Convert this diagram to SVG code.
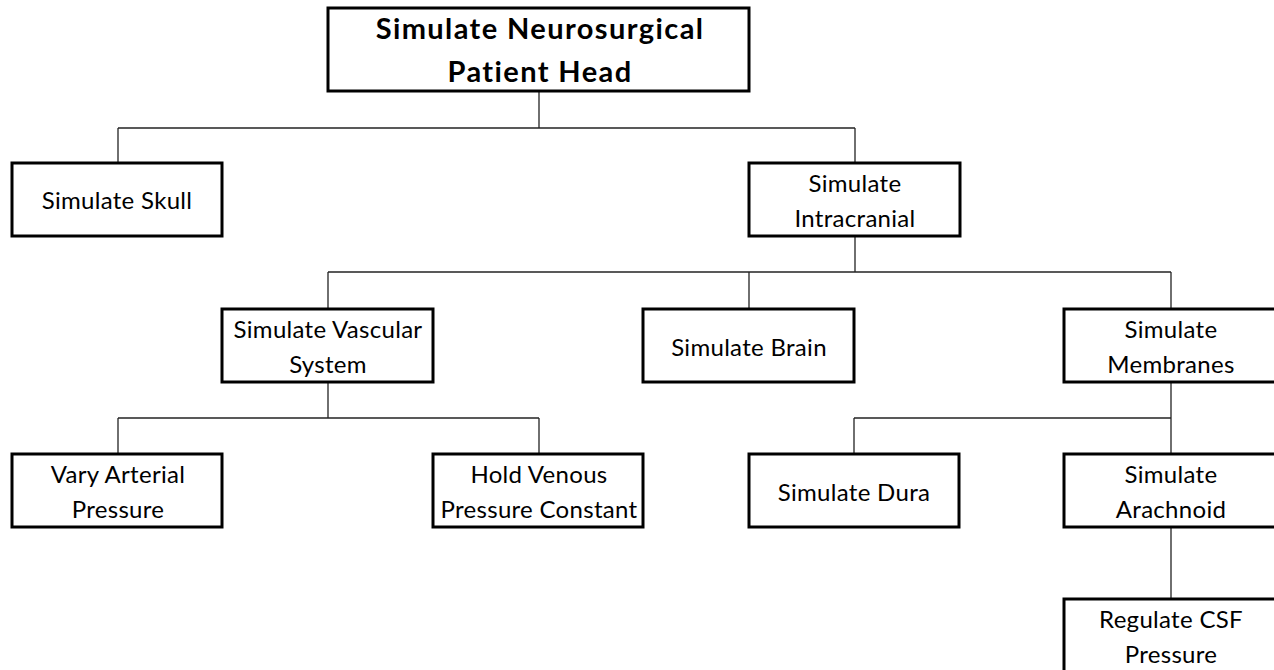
<svg xmlns="http://www.w3.org/2000/svg" width="1274" height="670" viewBox="0 0 1274 670">
<style>
.box{fill:#fff;stroke:#000;stroke-width:3}
.conn line{stroke:#222;stroke-width:1.3}
text{font-family:Lato,"Open Sans","Liberation Sans",sans-serif;font-size:24px;letter-spacing:0.3px;fill:#000;text-anchor:middle}
.title{font-weight:bold;font-size:29px;letter-spacing:1.4px}
</style>
<rect width="1274" height="670" fill="#fff"/>
<g id="connectors" class="conn">
<line x1="539" y1="91" x2="539" y2="128"/>
<line x1="118" y1="128" x2="855" y2="128"/>
<line x1="118" y1="128" x2="118" y2="163"/>
<line x1="855" y1="128" x2="855" y2="163"/>
<line x1="855" y1="237" x2="855" y2="272"/>
<line x1="328" y1="272" x2="1171" y2="272"/>
<line x1="328" y1="272" x2="328" y2="309"/>
<line x1="749" y1="272" x2="749" y2="309"/>
<line x1="1171" y1="272" x2="1171" y2="309"/>
<line x1="328" y1="382" x2="328" y2="418"/>
<line x1="118" y1="418" x2="539" y2="418"/>
<line x1="118" y1="418" x2="118" y2="454"/>
<line x1="539" y1="418" x2="539" y2="454"/>
<line x1="1171" y1="382" x2="1171" y2="454"/>
<line x1="854" y1="418" x2="1171" y2="418"/>
<line x1="854" y1="418" x2="854" y2="454"/>
<line x1="1171" y1="528" x2="1171" y2="599"/>
</g>
<g id="root"><rect class="box" x="328" y="8" width="421" height="83"/>
<text class="title" x="540" y="39">Simulate Neurosurgical</text><text class="title" x="540" y="82">Patient Head</text></g>
<g id="skull"><rect class="box" x="12" y="163" width="210" height="73"/>
<text x="117" y="209">Simulate Skull</text></g>
<g id="intracranial"><rect class="box" x="749" y="163" width="211" height="73"/>
<text x="855" y="192">Simulate</text><text x="855" y="227">Intracranial</text></g>
<g id="vascular"><rect class="box" x="222" y="309" width="211" height="73"/>
<text x="328" y="338">Simulate Vascular</text><text x="328" y="373">System</text></g>
<g id="brain"><rect class="box" x="643" y="309" width="211" height="73"/>
<text x="749" y="356">Simulate Brain</text></g>
<g id="membranes"><rect class="box" x="1064" y="309" width="214" height="73"/>
<text x="1171" y="338">Simulate</text><text x="1171" y="373">Membranes</text></g>
<g id="arterial"><rect class="box" x="12" y="454" width="210" height="73"/>
<text x="118" y="483">Vary Arterial</text><text x="118" y="518">Pressure</text></g>
<g id="venous"><rect class="box" x="433" y="454" width="210" height="73"/>
<text x="539" y="483">Hold Venous</text><text x="539" y="518">Pressure Constant</text></g>
<g id="dura"><rect class="box" x="749" y="454" width="210" height="73"/>
<text x="854" y="501">Simulate Dura</text></g>
<g id="arachnoid"><rect class="box" x="1064" y="454" width="214" height="73"/>
<text x="1171" y="483">Simulate</text><text x="1171" y="518">Arachnoid</text></g>
<g id="csf"><rect class="box" x="1064" y="599" width="214" height="80"/>
<text x="1171" y="628">Regulate CSF</text><text x="1171" y="663">Pressure</text></g>
</svg>
